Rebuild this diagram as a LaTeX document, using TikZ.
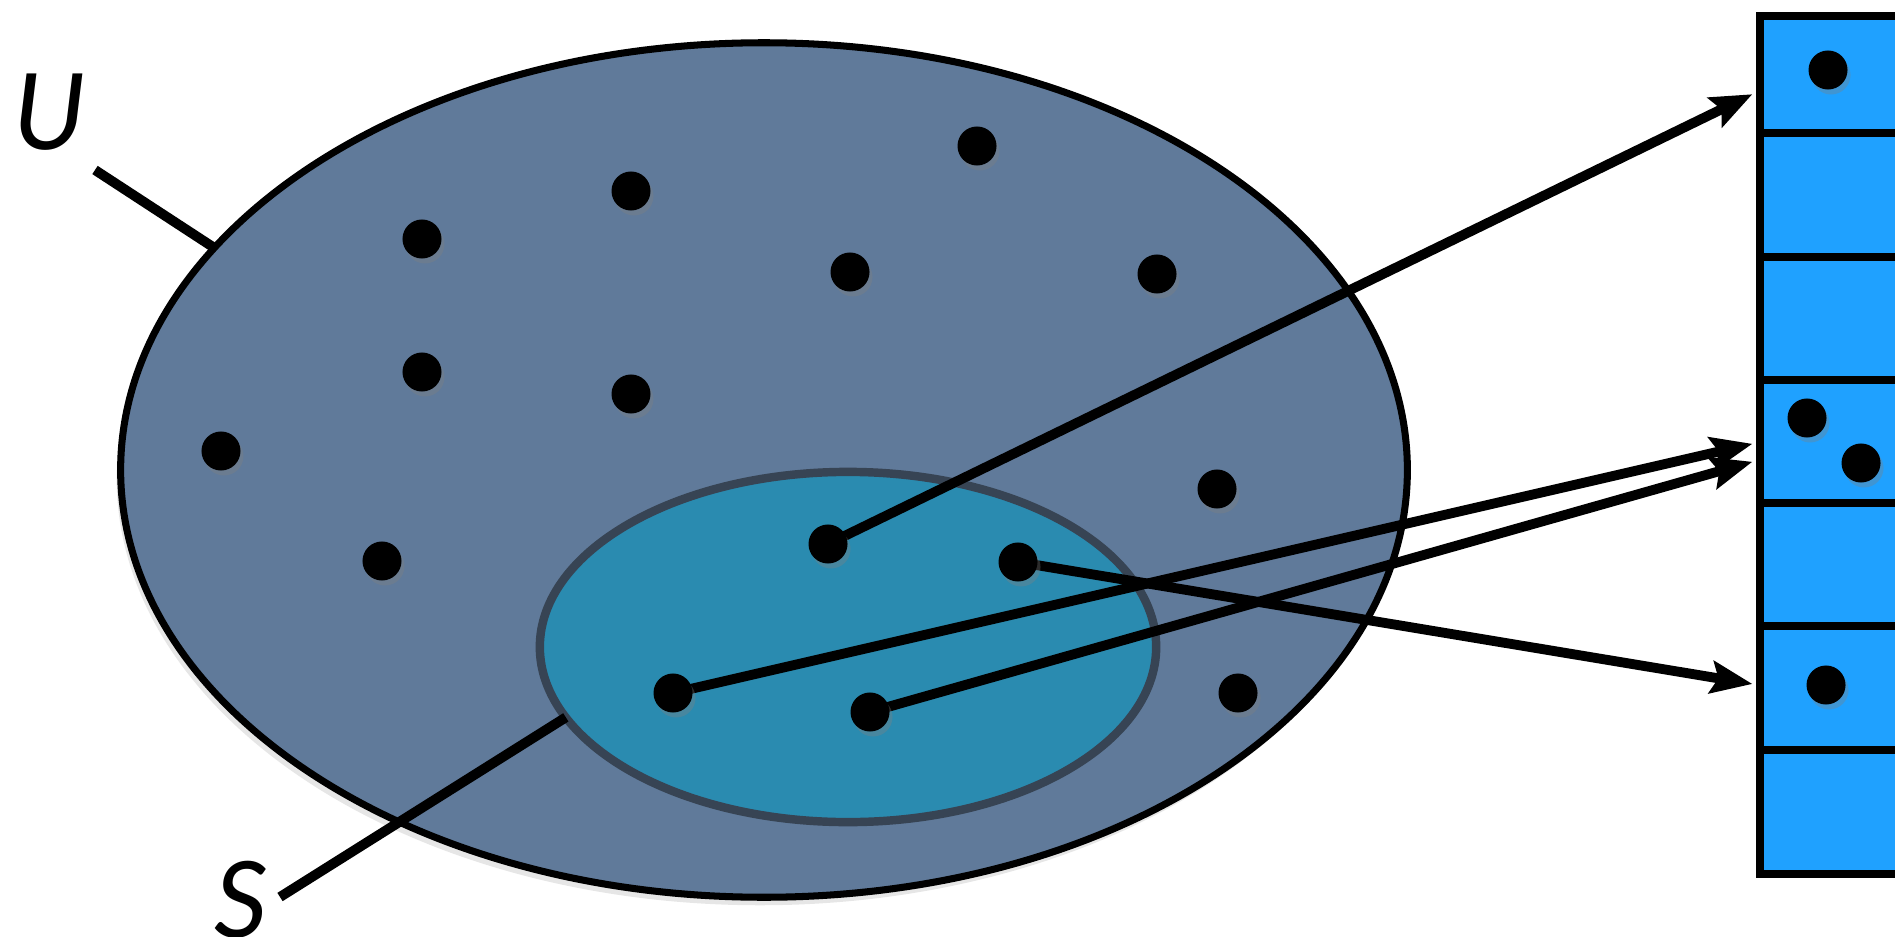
\documentclass[tikz,border=0pt]{standalone}
\usepackage{fontspec}
\setsansfont{Lato}
\definecolor{slateblue}{RGB}{96,122,154}
\definecolor{tealblue}{RGB}{42,139,176}
\definecolor{tableblue}{RGB}{31,161,255}
\definecolor{rimgray}{RGB}{55,68,84}
\usetikzlibrary{arrows.meta,shapes.geometric,shadows,calc}

\begin{document}
\begin{tikzpicture}[x=0.01cm, y=-0.01cm,
    dot/.style={circle, fill=black, minimum size=0.39cm, inner sep=0,
        drop shadow={shadow xshift=0.03cm, shadow yshift=-0.05cm, opacity=0.35}},
    set/.style={ellipse, inner sep=0, outer sep=0},
    cell/.style={rectangle, draw=black, line width=2.2pt, fill=tableblue,
        minimum width=2cm, minimum height=1.24cm, anchor=north west, inner sep=0},
    link/.style={line width=2.8pt, -{Stealth[length=0.42cm, width=0.34cm, inset=0.08cm, fill=black, line width=0.5pt]}},
    lead/.style={line width=2.8pt},
    tag/.style={font=\fontsize{30}{36}\selectfont\sffamily\itshape},
]
    \clip (0,0) rectangle (1895,937);

    \node[set, draw=black, line width=2pt, fill=slateblue, minimum width=12.86cm, minimum height=8.54cm,
        drop shadow={shadow xshift=-0.04cm, shadow yshift=-0.08cm, opacity=0.2}] (setU) at (764,470) {};
    \node[set, draw=rimgray, line width=2.4pt, fill=tealblue, minimum width=6.16cm, minimum height=3.50cm] (setS) at (848,647) {};

    \node[cell, minimum height=1.17cm] (row1) at (1756,12) {};
    \node[cell] (row2) at (1756,129) {};
    \node[cell] (row3) at (1756,253) {};
    \node[cell] (row4) at (1756,376) {};
    \node[cell] (row5) at (1756,499) {};
    \node[cell] (row6) at (1756,622) {};
    \node[cell] (row7) at (1756,746) {};

    \node[tag] (labU) at (50,112) {U};
    \node[tag] (labS) at (241,900) {S};
    \coordinate (leadU) at (95,170);
    \coordinate (leadS) at (280,897);
    \draw[lead] (leadU) -- (setU.158.5);
    \draw[lead] (leadS) -- (setS.194);

    \node[dot] (p1) at (422,239) {};
    \node[dot] (p2) at (631,191) {};
    \node[dot] (p3) at (977,146) {};
    \node[dot] (p4) at (850,272) {};
    \node[dot] (p5) at (1157,274) {};
    \node[dot] (p6) at (422,372) {};
    \node[dot] (p7) at (631,394) {};
    \node[dot] (p8) at (221,451) {};
    \node[dot] (p9) at (1217,489) {};
    \node[dot] (p10) at (382,561) {};
    \node[dot] (p11) at (1238,693) {};

    \draw[link] (828,544) -- ($(row1.west)+(-4,20)$);
    \draw[link] (1018,562) -- ($(row6.west)+(-4,-4)$);
    \draw[link] (673,693) -- ($(row4.west)+(-4,2)$);
    \draw[link] (870,712) -- ($(row4.west)+(-4,20)$);

    \node[dot] (s1) at (828,544) {};
    \node[dot] (s2) at (1018,562) {};
    \node[dot] (s3) at (673,693) {};
    \node[dot] (s4) at (870,712) {};

    \node[dot] (h1) at (1828,70) {};
    \node[dot] (h2) at (1807,418) {};
    \node[dot] (h3) at (1861,463) {};
    \node[dot] (h4) at (1826,685) {};
\end{tikzpicture}
\end{document}
